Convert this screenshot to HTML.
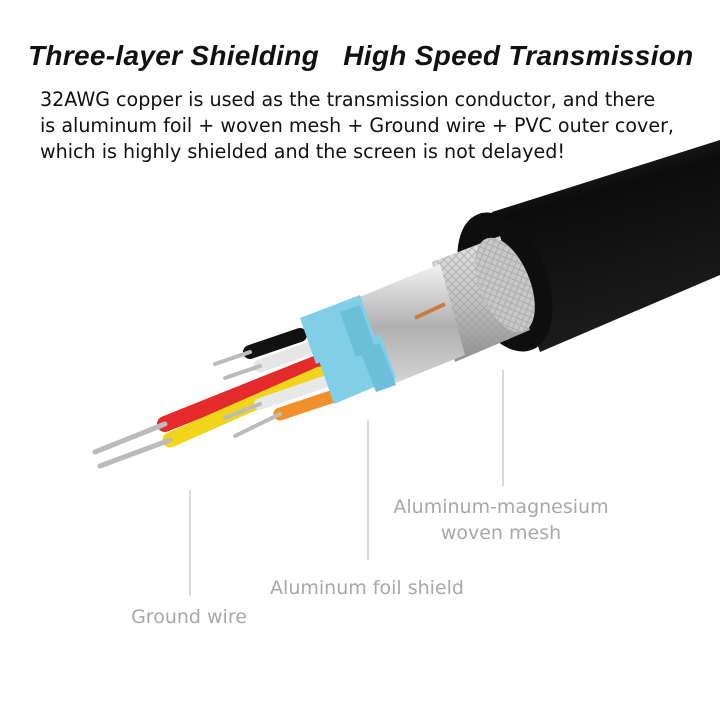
<!DOCTYPE html>
<html><head><meta charset="utf-8"><style>
html,body{margin:0;padding:0;background:#fff}
#c{position:relative;width:720px;height:720px;overflow:hidden;background:#fff;font-family:"DejaVu Sans","Liberation Sans",sans-serif}
.t{position:absolute;left:28px;top:40px;font-family:"Liberation Sans",sans-serif;font-size:28px;font-weight:bold;font-style:italic;color:#111;white-space:pre;letter-spacing:0.3px}
.b{position:absolute;left:40px;top:87px;font-size:19.1px;line-height:26px;color:#111;white-space:nowrap}
.l{position:absolute;color:#a8a8a8;font-size:19px;line-height:26px;text-align:center;white-space:nowrap}
</style></head><body><div id="c">
<svg width="720" height="720" style="position:absolute;left:0;top:0">
<defs>
<linearGradient id="bk" x1="0" y1="0" x2="0.3" y2="1"><stop offset="0" stop-color="#3a3a3a"/><stop offset="0.35" stop-color="#0c0c0c"/><stop offset="1" stop-color="#1c1c1c"/></linearGradient>
<linearGradient id="mesh" x1="0" y1="0" x2="0" y2="1"><stop offset="0" stop-color="#e6e6e6"/><stop offset="0.5" stop-color="#c4c4c4"/><stop offset="1" stop-color="#8e8e8e"/></linearGradient>
<linearGradient id="foil" x1="0" y1="0" x2="0" y2="1"><stop offset="0" stop-color="#f2f2f2"/><stop offset="0.5" stop-color="#b0b0b0"/><stop offset="1" stop-color="#d8d8d8"/></linearGradient>
<pattern id="hatch" width="8" height="8" patternUnits="userSpaceOnUse"><path d="M0 8L8 0M0 0L8 8" stroke="#999" stroke-width="1"/></pattern>
</defs>
<line x1="190" y1="490" x2="190" y2="596" stroke="#ccc" stroke-width="1.5"/>
<line x1="368" y1="420" x2="368" y2="560" stroke="#ccc" stroke-width="1.5"/>
<line x1="503" y1="370" x2="503" y2="486" stroke="#ccc" stroke-width="1.5"/>
<polygon points="492,212 720,140 720,275 540,352" fill="url(#bk)"/>
<ellipse cx="505" cy="282" rx="42" ry="73" transform="rotate(-22 505 282)" fill="#0e0e0e"/>
<polygon points="432,262 500,236 530,330 455,362" fill="url(#mesh)"/>
<polygon points="432,262 500,236 530,330 455,362" fill="url(#hatch)" opacity="0.6"/>
<ellipse cx="505" cy="285" rx="25" ry="50" transform="rotate(-22 505 285)" fill="#c8c8c8"/>
<ellipse cx="505" cy="285" rx="25" ry="50" transform="rotate(-22 505 285)" fill="url(#hatch)" opacity="0.6"/>
<polygon points="352,300 440,264 465,355 378,390" fill="url(#foil)"/>
<line x1="415" y1="318" x2="445" y2="304" stroke="#c87a40" stroke-width="4"/>
<g stroke-linecap="round">
<line x1="300" y1="335" x2="250" y2="352" stroke="#111" stroke-width="14"/>
<line x1="310" y1="348" x2="260" y2="366" stroke="#e6e6e6" stroke-width="13"/>
<line x1="320" y1="362" x2="165" y2="424" stroke="#e42a2a" stroke-width="16"/>
<line x1="320" y1="374" x2="170" y2="440" stroke="#f2d51a" stroke-width="15"/>
<line x1="330" y1="380" x2="260" y2="404" stroke="#e8e8e8" stroke-width="12"/>
<line x1="340" y1="394" x2="280" y2="414" stroke="#f0902a" stroke-width="13"/>
<line x1="165" y1="424" x2="95" y2="452" stroke="#bbb" stroke-width="5"/>
<line x1="170" y1="440" x2="100" y2="466" stroke="#bbb" stroke-width="5"/>
<line x1="250" y1="352" x2="215" y2="364" stroke="#bbb" stroke-width="4"/>
<line x1="260" y1="366" x2="225" y2="378" stroke="#bbb" stroke-width="4"/>
<line x1="260" y1="404" x2="225" y2="418" stroke="#bbb" stroke-width="4"/>
<line x1="280" y1="414" x2="235" y2="436" stroke="#bbb" stroke-width="4"/>
</g>
<polygon points="300,318 360,295 376,340 316,364" fill="#80cfe6"/>
<polygon points="318,358 380,334 396,378 334,404" fill="#80cfe6"/>
<polygon points="340,312 360,305 376,350 356,357" fill="#6bbfd8"/>
<polygon points="360,350 380,343 396,385 376,392" fill="#6bbfd8"/>
</svg>
<div class="t">Three-layer Shielding   High Speed Transmission</div>
<div class="b">32AWG copper is used as the transmission conductor, and there<br>is aluminum foil + woven mesh + Ground wire + PVC outer cover,<br>which is highly shielded and the screen is not delayed!</div>
<div class="l" style="left:391px;top:494px;width:220px">Aluminum-magnesium<br>woven mesh</div>
<div class="l" style="left:257px;top:575px;width:220px">Aluminum foil shield</div>
<div class="l" style="left:109px;top:604px;width:160px">Ground wire</div>
</div></body></html>
